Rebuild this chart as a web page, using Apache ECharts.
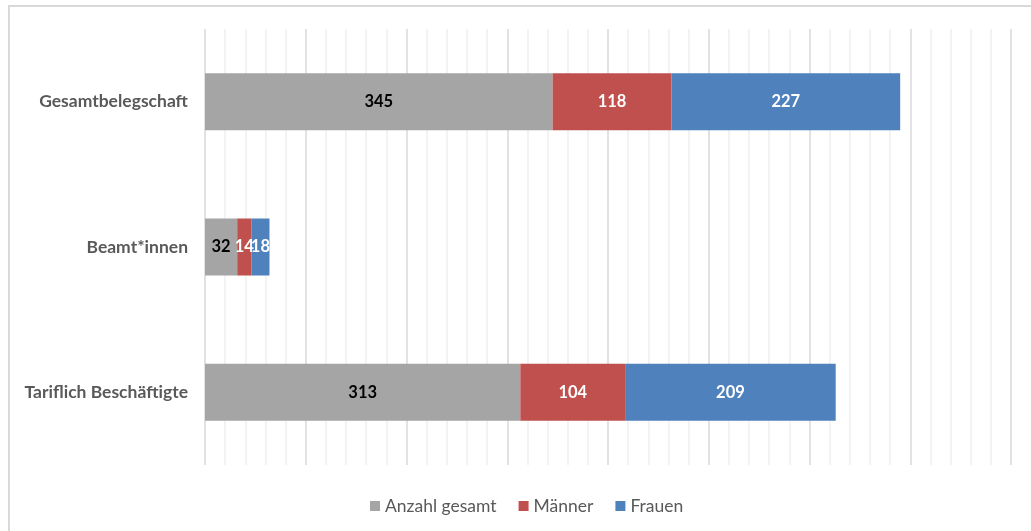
<!DOCTYPE html>
<html>
<head>
<meta charset="utf-8">
<script src="https://cdn.jsdelivr.net/npm/echarts@6/dist/echarts.min.js"></script>
<style>
html,body{margin:0;padding:0;background:#fff;}
#c{width:1031px;height:531px;}
</style>
</head>
<body>
<div id="c"></div>
<script>
const categories = ['Gesamtbelegschaft', 'Beamt*innen', 'Tariflich Beschäftigte'];
const seriesNames = ['Anzahl gesamt', 'Männer', 'Frauen'];
const gesamt = [345, 32, 313];
const maenner = [118, 14, 104];
const frauen = [227, 18, 209];
const colors = ['#a5a5a5', '#c0504d', '#4f81bd'];
const labelColors = ['#000000', '#ffffff', '#ffffff'];
const values = [gesamt, maenner, frauen];

const chart = echarts.init(document.getElementById('c'));
chart.setOption({
  animation: false,
  textStyle: { fontFamily: 'Lato' },
  graphic: [
    { type: 'polyline', shape: { points: [[9, 531], [9, 6], [1031, 6]] },
      style: { stroke: '#d9d9d9', lineWidth: 2, fill: null } }
  ],
  grid: { left: 205, right: 20, top: 29, bottom: 66 },
  legend: {
    bottom: 11,
    left: 365,
    icon: 'rect',
    itemWidth: 10,
    itemHeight: 10,
    itemGap: 22,
    textStyle: { color: '#595959', fontSize: 17.5, fontFamily: 'Lato' },
    data: seriesNames
  },
  xAxis: {
    type: 'value',
    min: 0, max: 800, interval: 100,
    axisLabel: { show: false },
    axisLine: { show: false },
    axisTick: { show: false },
    splitLine: { show: true, lineStyle: { color: '#d9d9d9', width: 1.5 } },
    minorTick: { show: false, splitNumber: 5 },
    minorSplitLine: { show: true, lineStyle: { color: '#efefef', width: 1.5 } }
  },
  yAxis: {
    type: 'category',
    data: categories,
    inverse: true,
    axisLine: { show: false },
    axisTick: { show: false },
    axisLabel: { color: '#595959', fontSize: 17.5, fontWeight: 'bold', margin: 17, fontFamily: 'Lato' }
  },
  series: seriesNames.map((n, i) => ({
    name: n,
    type: 'bar',
    stack: 'total',
    barWidth: 57,
    data: values[i],
    itemStyle: { color: colors[i] },
    label: {
      show: true,
      position: 'inside',
      color: labelColors[i],
      fontWeight: 'bold',
      fontSize: 16.5,
      fontFamily: 'Lato',
      textBorderWidth: 0
    }
  }))
});
</script>
</body>
</html>
